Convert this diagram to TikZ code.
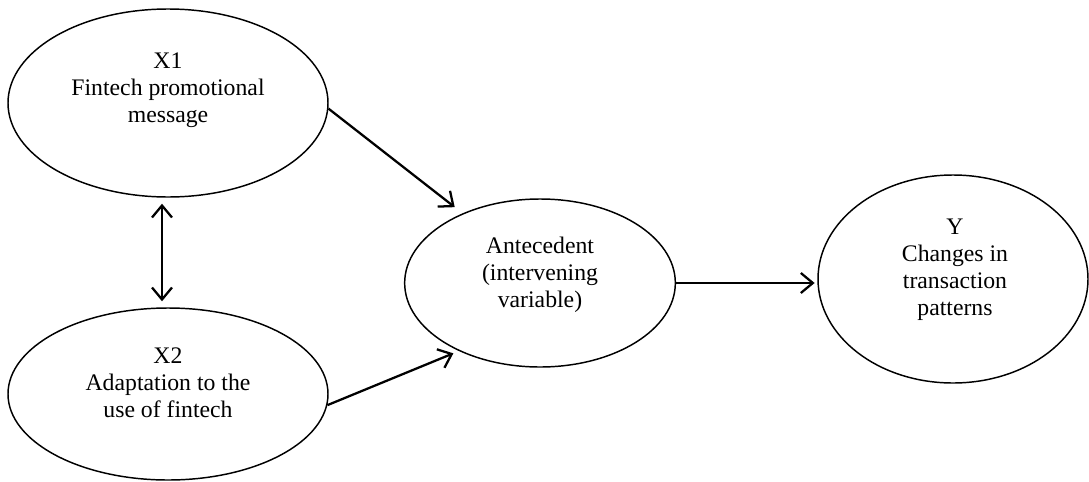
\documentclass[tikz,border=0pt]{standalone}
\usepackage{fontspec}
\setmainfont{Liberation Serif}
\usepackage{xcolor}
\usetikzlibrary{arrows.meta,positioning,shapes.geometric}
\definecolor{pathInk}{RGB}{0,0,0}

\begin{document}
\begin{tikzpicture}[x=0.75pt,y=-0.75pt,
  barb/.tip={Straight Barb[length=9pt,width=15pt]},
  varbox/.style={ellipse, draw=pathInk, line width=1.1pt, inner sep=0pt},
  vartext/.style={align=center, font=\fontsize{17.8}{20.25}\selectfont},
  link/.style={draw=pathInk, line width=1.7pt, -barb}]
\useasboundingbox (0,0) rectangle (1089,482);
\node[varbox, minimum width=240pt, minimum height=141pt] (x1) at (168,103) {};
\node[varbox, minimum width=240pt, minimum height=129pt] (x2) at (168,394) {};
\node[varbox, minimum width=203pt, minimum height=126pt] (ante) at (540,283) {};
\node[varbox, minimum width=202.5pt, minimum height=156pt] (y) at (953,279) {};
\node[vartext] (x1text) at (168,90) {X1\\Fintech promotional\\message};
\node[vartext] (x2text) at (168,383) {X2\\Adaptation to the\\use of fintech};
\node[vartext] (antetext) at (540,275) {Antecedent\\(intervening\\variable)};
\node[vartext] (ytext) at (955,270) {Y\\Changes in\\transaction\\patterns};
\draw[link, shorten >=7.5pt] (x1.-2.5) -- (ante.138);
\draw[link, shorten >=4.5pt] (x2.-4.7) -- (ante.220);
\draw[link, shorten >=2pt] (ante.east) -- (ante.east -| y.west);
\draw[link, barb-barb, shorten <=4.5pt, shorten >=4.5pt]
  ([xshift=-4.5pt]x1.south) -- ([xshift=-4.5pt]x2.north);
\end{tikzpicture}
\end{document}
